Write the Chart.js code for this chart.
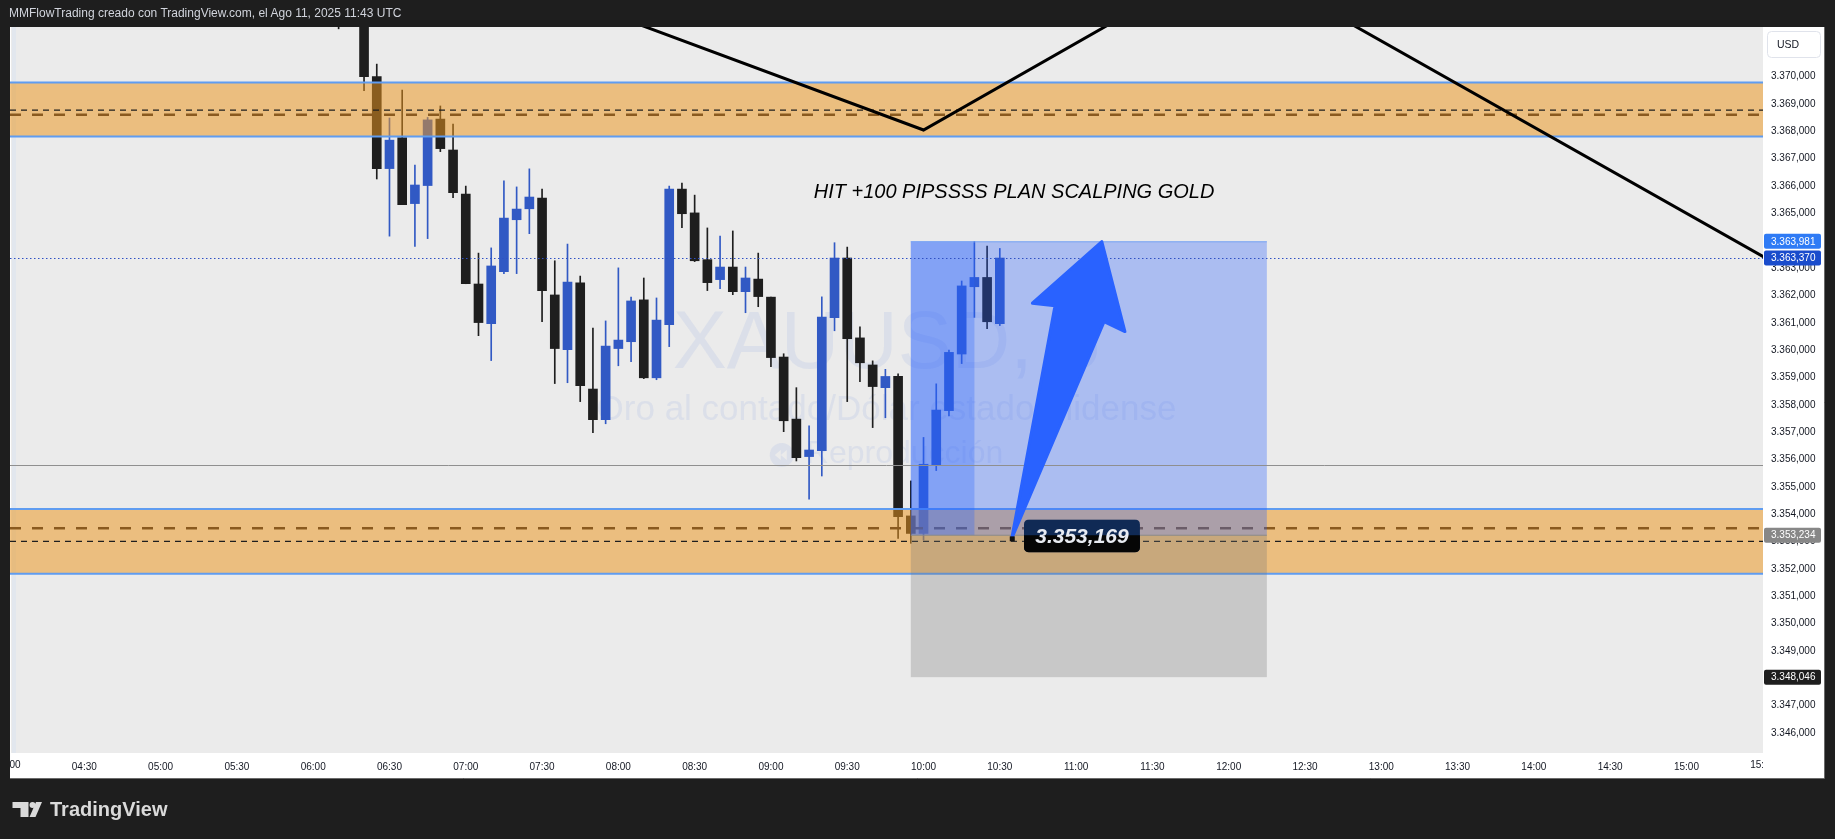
<!DOCTYPE html>
<html lang="es">
<head>
<meta charset="utf-8">
<title>XAUUSD 5 min - MMFlowTrading</title>
<script src="https://cdn.jsdelivr.net/npm/chart.js@4.4.1/dist/chart.umd.min.js"></script>
<style>
  html, body { margin: 0; padding: 0; background: #1e1e1e; }
  #wrap { position: relative; width: 1835px; height: 839px; overflow: hidden; }
  #goldChart { position: absolute; left: 0; top: 0; }
  .header { position: absolute; left: 9px; top: 6px; font: 12px "Liberation Sans", Arial, sans-serif; color: #d1d4dc; white-space: nowrap; }
  .brand { position: absolute; left: 12px; top: 798px; display: flex; align-items: center; gap: 8px; font: bold 20px "Liberation Sans", Arial, sans-serif; color: #dadada; }
</style>
</head>
<body>
<div id="wrap">
  <canvas id="goldChart" width="1835" height="839"></canvas>
  <div class="header">MMFlowTrading creado con TradingView.com, el Ago 11, 2025 11:43 UTC</div>
  <div class="brand">
    <svg width="30" height="16" viewBox="0 0 30 16">
      <path d="M0.5 0H16.5V15H8.5V6H0.5Z" fill="#dadada"/>
      <circle cx="20.5" cy="3" r="3" fill="#dadada"/>
      <path d="M24 0H30L23.5 15H17.5Z" fill="#dadada"/>
    </svg>
    <span>TradingView</span>
  </div>
</div>
<script>
// velas de 5 minutos (hora de apertura)
const times = ['06:10','06:15','06:20','06:25','06:30','06:35','06:40','06:45','06:50','06:55',
  '07:00','07:05','07:10','07:15','07:20','07:25','07:30','07:35','07:40','07:45','07:50','07:55',
  '08:00','08:05','08:10','08:15','08:20','08:25','08:30','08:35','08:40','08:45','08:50','08:55',
  '09:00','09:05','09:10','09:15','09:20','09:25','09:30','09:35','09:40','09:45','09:50','09:55',
  '10:00','10:05','10:10','10:15','10:20','10:25','10:30'];
const opens = [3375.80,3374.60,3373.10,3370.00,3366.64,3367.77,3365.36,3366.02,3368.45,3367.32,
  3365.71,3362.42,3360.97,3362.87,3364.77,3365.17,3365.56,3362.02,3360.02,3362.46,3358.58,3357.46,
  3360.06,3360.31,3361.84,3358.99,3360.93,3365.89,3365.02,3363.31,3362.58,3363.04,3362.14,3362.60,
  3361.94,3359.75,3357.48,3356.11,3356.33,3361.19,3363.37,3360.45,3359.46,3358.63,3359.04,3353.94,
  3353.30,3355.80,3357.79,3359.86,3362.32,3362.66,3360.97];
const highs = [3376.60,3375.20,3373.40,3370.46,3368.49,3369.51,3366.77,3368.51,3368.93,3368.27,
  3366.00,3363.55,3363.74,3366.19,3365.97,3366.63,3365.89,3363.27,3363.88,3362.71,3360.81,3361.07,
  3363.01,3361.94,3362.64,3361.91,3366.00,3366.11,3365.67,3364.47,3364.17,3364.36,3363.04,3363.55,
  3361.94,3359.87,3358.63,3357.23,3361.95,3363.93,3363.77,3360.85,3359.61,3359.30,3359.14,3355.22,
  3356.81,3358.77,3360.00,3362.53,3363.98,3363.81,3363.72];
const lows = [3371.75,3372.40,3369.49,3366.26,3364.17,3365.32,3363.79,3364.08,3367.26,3365.58,
  3362.43,3360.53,3359.62,3362.80,3362.80,3364.26,3361.04,3358.78,3358.81,3358.12,3356.98,3357.31,
  3359.43,3359.58,3358.96,3358.92,3360.13,3364.48,3363.24,3362.18,3362.25,3362.03,3361.37,3361.59,
  3359.40,3357.02,3355.95,3354.55,3355.40,3360.71,3358.12,3358.85,3357.17,3357.53,3353.12,3352.94,
  3353.06,3355.60,3357.60,3359.51,3361.20,3360.79,3360.90];
const closes = [3374.60,3373.10,3370.00,3366.64,3367.68,3365.32,3366.04,3368.42,3367.37,3365.76,
  3362.43,3361.01,3363.08,3364.83,3365.16,3365.60,3362.18,3360.06,3362.49,3358.70,3357.46,3360.15,
  3360.37,3361.80,3358.99,3361.10,3365.89,3364.99,3363.27,3362.47,3363.04,3362.14,3362.64,3361.96,
  3359.73,3357.42,3356.07,3356.35,3361.21,3363.37,3360.42,3359.54,3358.67,3359.04,3353.91,3353.30,
  3355.83,3357.81,3359.92,3362.35,3362.66,3361.04,3363.37];

// etiquetas de los ejes
const timeTicks = ['04:00','04:30','05:00','05:30','06:00','06:30','07:00','07:30','08:00','08:30',
  '09:00','09:30','10:00','10:30','11:00','11:30','12:00','12:30','13:00','13:30','14:00','14:30','15:00','15:30'];
const priceTicks = [3346,3347,3348,3349,3350,3351,3352,3353,3354,3355,3356,3357,3358,
  3359,3360,3361,3362,3363,3364,3365,3366,3367,3368,3369,3370];

// dibujos
const upperZone = [3367.81, 3369.79];      // zona de oferta (abajo, arriba)
const lowerZone = [3351.83, 3354.19];      // zona de demanda
const zoneMidLines = [3368.78, 3353.01];   // linea negra discontinua
const zoneDashLines = [3368.61, 3353.49];  // linea marron discontinua
const greyLevel = 3355.79;
const lastPrice = 3363.37;
const positionTimes = ['09:55', '10:20', '12:15'];          // inicio, objetivo tocado, fin
const positionPrices = [3348.046, 3353.234, 3363.981];      // stop, entrada, objetivo
const zigzagTimes = [416, 600, 720.5, 970];                 // minutos del dia
const zigzagPrices = [3374.40, 3368.05, 3374.43, 3361.33];
const arrowTimes = [634.7, 651.7, 642.8, 670.1, 679.2, 671.0];
const arrowPrices = [3353.12, 3361.62, 3361.72, 3363.97, 3360.68, 3361.04];
const noteValue = 3353.169;
const noteAt = [662.3, 3353.21];
const headline = 'HIT +100 PIPSSSS PLAN SCALPING GOLD';
const headlineAt = [635.6, 3365.78];
const axisMarks = [3363.981, 3363.370, 3353.234, 3348.046];
const axisMarkColors = ['#2f7bf5', '#1a4ccc', '#878787', '#1e1e1e'];
const watermark = ['XAUUSD, 5', 'Oro al contado/Dólar estadounidense', 'Reproducción'];

const X_MIN = 240.78, X_MAX = 930.1;
const Y_MIN = 3345.272, Y_MAX = 3371.817;
const BULL = '#3159c4', BEAR = '#1e1e1e';
const FONT = '"Liberation Sans", Arial, sans-serif';

function toMin(s) {
  const p = s.split(':');
  return Number(p[0]) * 60 + Number(p[1]);
}
function fmtTime(m) {
  const h = Math.floor(m / 60), mm = Math.round(m % 60);
  return String(h).padStart(2, '0') + ':' + String(mm).padStart(2, '0');
}
function fmtPrice(v) {
  const parts = v.toFixed(3).split('.');
  const i = parts[0];
  return i.slice(0, i.length - 3) + '.' + i.slice(-3) + ',' + parts[1];
}

const candleX = times.map(toMin);
const candleColors = candleX.map((_, i) => closes[i] >= opens[i] ? BULL : BEAR);

function hline(ctx, a, yy, color, width, dash) {
  ctx.save();
  ctx.strokeStyle = color;
  ctx.lineWidth = width;
  ctx.setLineDash(dash || []);
  ctx.beginPath();
  ctx.moveTo(a.left, yy);
  ctx.lineTo(a.right, yy);
  ctx.stroke();
  ctx.restore();
}

const tvDrawings = {
  id: 'tvDrawings',
  beforeDraw(chart) {
    const { ctx, chartArea: a } = chart;
    ctx.save();
    ctx.fillStyle = '#1e1e1e';
    ctx.fillRect(0, 0, chart.width, chart.height);
    ctx.fillStyle = '#ffffff';
    ctx.fillRect(a.left, a.top, a.right - a.left + 61, a.bottom - a.top + 25);
    ctx.fillStyle = '#ebebeb';
    ctx.fillRect(a.left + 1, a.top, a.right - a.left - 1, a.bottom - a.top);
    ctx.fillStyle = '#e2e7ee';
    ctx.fillRect(a.left + 2, a.top, 4, a.bottom - a.top);
    ctx.strokeStyle = '#6a6a6a';
    ctx.lineWidth = 1;
    ctx.beginPath();
    ctx.moveTo(a.right + 61.5, a.top);
    ctx.lineTo(a.right + 61.5, a.bottom + 25.5);
    ctx.lineTo(a.left, a.bottom + 25.5);
    ctx.stroke();
    ctx.restore();
  },
  beforeDatasetsDraw(chart) {
    const { ctx, chartArea: a } = chart;
    const cx = (a.left + a.right) / 2, cy = (a.top + a.bottom) / 2;
    ctx.save();
    ctx.beginPath();
    ctx.rect(a.left, a.top, a.right - a.left, a.bottom - a.top);
    ctx.clip();
    ctx.fillStyle = 'rgba(200,208,230,0.45)';
    ctx.textAlign = 'center';
    ctx.textBaseline = 'alphabetic';
    ctx.font = '81px ' + FONT;
    ctx.fillText(watermark[0], cx, cy - 22);
    ctx.font = '35px ' + FONT;
    ctx.fillText(watermark[1], cx, cy + 30);
    ctx.font = '32px ' + FONT;
    const w = ctx.measureText(watermark[2]).width;
    const sx = cx - (w + 36) / 2;
    ctx.beginPath();
    ctx.arc(sx + 12, cy + 65, 12, 0, Math.PI * 2);
    ctx.fill();
    ctx.fillStyle = '#ebebeb';
    ctx.beginPath();
    ctx.moveTo(sx + 5, cy + 65); ctx.lineTo(sx + 11, cy + 60); ctx.lineTo(sx + 11, cy + 70); ctx.closePath();
    ctx.moveTo(sx + 11, cy + 65); ctx.lineTo(sx + 17, cy + 60); ctx.lineTo(sx + 17, cy + 70); ctx.closePath();
    ctx.fill();
    ctx.fillStyle = 'rgba(200,208,230,0.45)';
    ctx.textAlign = 'left';
    ctx.fillText(watermark[2], sx + 36, cy + 73);
    ctx.restore();
  },
  afterDatasetDraw(chart, args) {
    if (args.index !== 1) return;
    const { ctx, chartArea: a, scales: { x, y } } = chart;
    ctx.save();
    ctx.beginPath();
    ctx.rect(a.left, a.top, a.right - a.left, a.bottom - a.top);
    ctx.clip();

    // zonas
    [upperZone, lowerZone].forEach((z, i) => {
      const yt = y.getPixelForValue(z[1]), yb = y.getPixelForValue(z[0]);
      ctx.fillStyle = 'rgba(235,150,30,0.53)';
      ctx.fillRect(a.left, yt, a.right - a.left, yb - yt);
      hline(ctx, a, y.getPixelForValue(zoneDashLines[i]), '#8a5a1f', 2.5, [11, 11]);
      hline(ctx, a, y.getPixelForValue(zoneMidLines[i]), '#1e1e1e', 1.2, [6, 5]);
      hline(ctx, a, yt, '#5f9cf0', 2);
      hline(ctx, a, yb, '#5f9cf0', 2);
    });

    // posicion larga
    const [t0, t1, t2] = positionTimes.map(toMin);
    const [stop, entry, target] = positionPrices;
    const x0 = x.getPixelForValue(t0), x1 = x.getPixelForValue(t1), x2 = x.getPixelForValue(t2);
    const yTarget = y.getPixelForValue(target), yEntry = y.getPixelForValue(entry), yStop = y.getPixelForValue(stop);
    ctx.fillStyle = 'rgba(41,98,255,0.33)';
    ctx.fillRect(x0, yTarget, x2 - x0, yEntry - yTarget);
    ctx.fillStyle = 'rgba(41,98,255,0.3)';
    ctx.fillRect(x0, yTarget, x1 - x0, yEntry - yTarget);
    ctx.fillStyle = 'rgba(120,120,120,0.3)';
    ctx.fillRect(x0, yEntry, x2 - x0, yStop - yEntry);
    ctx.strokeStyle = '#7ba6f2';
    ctx.lineWidth = 1;
    ctx.beginPath();
    ctx.moveTo(x0, yTarget + 0.5); ctx.lineTo(x2, yTarget + 0.5);
    ctx.stroke();
    ctx.strokeStyle = '#8a8a8a';
    ctx.beginPath();
    ctx.moveTo(x0, yEntry); ctx.lineTo(x2, yEntry);
    ctx.stroke();

    hline(ctx, a, Math.round(y.getPixelForValue(greyLevel)) + 0.5, '#8f8f8f', 1);
    hline(ctx, a, Math.round(y.getPixelForValue(lastPrice)) + 0.5, '#2f50c4', 1, [1.5, 2.5]);
    ctx.restore();
  },
  afterDatasetsDraw(chart) {
    const { ctx, chartArea: a, scales: { x, y } } = chart;
    ctx.save();
    ctx.beginPath();
    ctx.rect(a.left, a.top, a.right - a.left, a.bottom - a.top);
    ctx.clip();

    ctx.fillStyle = '#000';
    ctx.font = 'italic 20px ' + FONT;
    ctx.textAlign = 'center';
    ctx.textBaseline = 'middle';
    ctx.fillText(headline, x.getPixelForValue(headlineAt[0]), y.getPixelForValue(headlineAt[1]));

    // flecha azul
    const P = arrowTimes.map((t, i) => [x.getPixelForValue(t), y.getPixelForValue(arrowPrices[i])]);
    ctx.fillStyle = '#2962ff';
    ctx.strokeStyle = '#2962ff';
    ctx.lineWidth = 3;
    ctx.lineJoin = 'round';
    ctx.beginPath();
    ctx.moveTo(P[0][0], P[0][1]);
    for (let i = 1; i < P.length; i++) ctx.lineTo(P[i][0], P[i][1]);
    ctx.closePath();
    ctx.fill();
    ctx.stroke();

    // nota de precio
    const nx = x.getPixelForValue(noteAt[0]), ny = y.getPixelForValue(noteAt[1]);
    const yEntry = y.getPixelForValue(positionPrices[1]);
    const bw = 116, bh = 33;
    ctx.save();
    ctx.beginPath();
    ctx.roundRect(nx - bw / 2, ny - bh / 2, bw, bh, 5);
    ctx.clip();
    ctx.fillStyle = '#102a55';
    ctx.fillRect(nx - bw / 2, ny - bh / 2, bw, bh);
    ctx.fillStyle = '#060606';
    ctx.fillRect(nx - bw / 2, yEntry, bw, ny + bh / 2 - yEntry);
    ctx.restore();
    ctx.fillStyle = '#111';
    ctx.fillRect(P[0][0] - 2, P[0][1] - 2, 5, 5);
    ctx.fillStyle = '#e8ebf2';
    ctx.font = 'italic bold 21px ' + FONT;
    ctx.textAlign = 'center';
    ctx.textBaseline = 'middle';
    ctx.fillText(fmtPrice(noteValue), nx, ny + 1);
    ctx.restore();
  },
  afterDraw(chart) {
    const { ctx, chartArea: a, scales: { x, y } } = chart;
    ctx.save();
    // etiquetas del eje de precios
    ctx.font = '10px ' + FONT;
    ctx.textBaseline = 'middle';
    axisMarks.forEach((v, i) => {
      const yy = y.getPixelForValue(v);
      ctx.fillStyle = axisMarkColors[i];
      ctx.beginPath();
      ctx.roundRect(a.right + 1, yy - 7.5, 57, 15, 2);
      ctx.fill();
      ctx.fillStyle = '#ffffff';
      ctx.textAlign = 'left';
      ctx.fillText(fmtPrice(v), a.right + 8, yy + 0.5);
    });
    // boton USD
    ctx.fillStyle = '#ffffff';
    ctx.strokeStyle = '#e0e3eb';
    ctx.lineWidth = 1;
    ctx.beginPath();
    ctx.roundRect(a.right + 4.5, a.top + 4.5, 53, 26, 4);
    ctx.fill();
    ctx.stroke();
    ctx.fillStyle = '#131722';
    ctx.font = '10.5px ' + FONT;
    ctx.textAlign = 'left';
    ctx.fillText('USD', a.right + 14, a.top + 18);
    // etiquetas de tiempo recortadas en los bordes
    ctx.beginPath();
    ctx.rect(a.left, a.bottom, a.right - a.left, 25);
    ctx.clip();
    ctx.fillStyle = '#131722';
    ctx.font = '10px ' + FONT;
    ctx.textAlign = 'center';
    timeTicks.map(toMin).filter(v => v < X_MIN + 10 || v > X_MAX - 10).forEach(v => {
      ctx.fillText(fmtTime(v), x.getPixelForValue(v), a.bottom + 12);
    });
    ctx.restore();
  }
};

Chart.defaults.font.family = FONT;

const ctx = document.getElementById('goldChart').getContext('2d');
new Chart(ctx, {
  type: 'bar',
  data: {
    datasets: [{
      label: 'Mechas',
      data: candleX.map((t, i) => ({ x: t, y: [lows[i], highs[i]] })),
      backgroundColor: candleColors,
      barThickness: 1,
      grouped: false,
      order: 3
    }, {
      label: 'Cuerpos',
      data: candleX.map((t, i) => ({ x: t, y: [opens[i], closes[i]] })),
      backgroundColor: candleColors,
      barThickness: 9,
      minBarLength: 1,
      grouped: false,
      order: 2
    }, {
      type: 'line',
      label: 'Zigzag',
      data: zigzagTimes.map((t, i) => ({ x: t, y: zigzagPrices[i] })),
      borderColor: '#000000',
      borderWidth: 3,
      pointRadius: 0,
      order: 1
    }]
  },
  options: {
    responsive: false,
    animation: false,
    events: [],
    layout: { padding: { left: 10, top: 27, right: 11, bottom: 61 } },
    plugins: {
      legend: { display: false },
      tooltip: { enabled: false }
    },
    scales: {
      x: {
        type: 'linear',
        min: X_MIN,
        max: X_MAX,
        offset: false,
        grid: { display: false },
        border: { display: false },
        afterBuildTicks: s => {
          s.ticks = timeTicks.map(toMin).filter(v => v > X_MIN + 10 && v < X_MAX - 10).map(v => ({ value: v }));
        },
        afterFit: s => { s.height = 25; },
        ticks: {
          autoSkip: false,
          maxRotation: 0,
          padding: 0,
          color: '#131722',
          font: { size: 10 },
          callback: v => fmtTime(v)
        }
      },
      y: {
        type: 'linear',
        position: 'right',
        min: Y_MIN,
        max: Y_MAX,
        grid: { display: false },
        border: { display: false },
        afterBuildTicks: s => {
          s.ticks = priceTicks.map(v => ({ value: v }));
        },
        afterFit: s => { s.width = 61; },
        ticks: {
          padding: 0,
          color: '#131722',
          font: { size: 10 },
          callback: v => fmtPrice(v)
        }
      }
    }
  },
  plugins: [tvDrawings]
});
</script>
</body>
</html>
